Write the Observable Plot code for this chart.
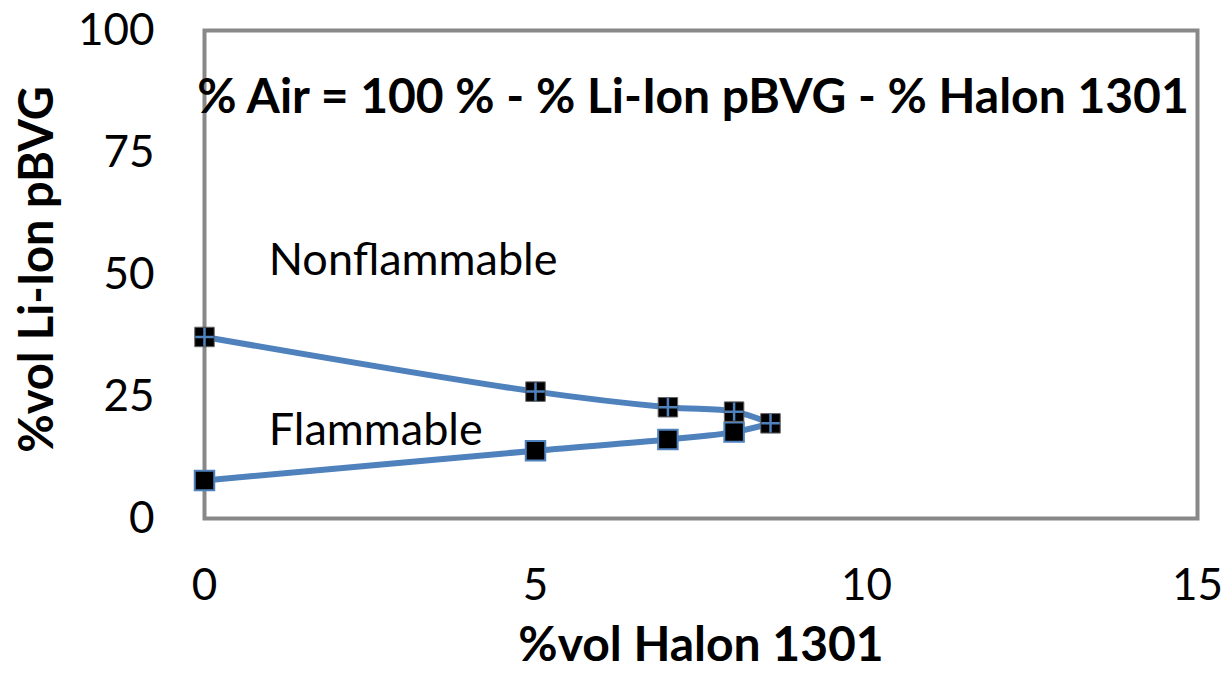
<!DOCTYPE html>
<html><head><meta charset="utf-8">
<script src="https://cdn.jsdelivr.net/npm/d3@7"></script>
<script src="https://cdn.jsdelivr.net/npm/@observablehq/plot@0.6"></script>
<style>
html,body{margin:0;padding:0;background:#fff;}
svg{font-family:Lato,"Open Sans",sans-serif;}
</style>
</head><body><div id="chart"></div>
<script>
const halonUpper = [0, 5, 7, 8, 8.55];
const pbvgUpper = [37.2, 26.0, 22.8, 21.9, 19.5];
const halonLower = [0, 5, 7, 8, 8.55];
const pbvgLower = [7.8, 13.9, 16.2, 17.7, 19.5];
const xTicks = [0, 5, 10, 15];
const yTicks = [0, 25, 50, 75, 100];
const regionLabels = ["Nonflammable", "Flammable"];
const regionX = [0.97, 0.97];
const regionY = [52.9, 18.0];
const titleText = "% Air = 100 % - % Li-Ion pBVG - % Halon 1301";
const xTitle = "%vol Halon 1301";
const yTitle = "%vol Li-Ion pBVG";

const upper = halonUpper.map((x, i) => ({x, y: pbvgUpper[i]}));
const lower = halonLower.map((x, i) => ({x, y: pbvgLower[i]}));
const labels = regionLabels.map((t, i) => ({t, x: regionX[i], y: regionY[i]}));
const blue = "#4F81BD";

const chart = Plot.plot({
  width: 1223, height: 680,
  marginLeft: 204, marginRight: 26, marginTop: 30, marginBottom: 162,
  x: {domain: [0, 15]},
  y: {domain: [0, 100]},
  marks: [
    Plot.frame({stroke: "#888", strokeWidth: 4}),
    Plot.axisX({ticks: xTicks, tickSize: 0, tickPadding: 50, fontSize: 44, label: null, fill: "#000"}),
    Plot.axisY({ticks: yTicks, tickSize: 0, tickPadding: 50, fontSize: 44, label: null, fill: "#000"}),
    Plot.line(upper, {x: "x", y: "y", stroke: blue, strokeWidth: 6, curve: "catmull-rom"}),
    Plot.line(lower, {x: "x", y: "y", stroke: blue, strokeWidth: 6, curve: "catmull-rom"}),
    Plot.dot(lower.slice(0, 4), {x: "x", y: "y", symbol: "square", r: 11, fill: "#000", stroke: blue, strokeWidth: 2}),
    Plot.dot(upper, {x: "x", y: "y", symbol: "square", r: 11, fill: "#000", stroke: "#666", strokeWidth: 1}),
    Plot.dot(upper, {x: "x", y: "y", symbol: "plus", r: 6, stroke: blue, strokeWidth: 2.5}),
    Plot.text(labels, {x: "x", y: "y", text: "t", textAnchor: "start", fontSize: 45, fill: "#000"}),
    Plot.text([titleText], {frameAnchor: "top", dy: 48, fontSize: 48, fontWeight: "bold", fill: "#000", dx: -8}),
    Plot.text([xTitle], {frameAnchor: "bottom", dy: 142, fontSize: 48, fontWeight: "bold", fill: "#000"}),
    Plot.text([yTitle], {frameAnchor: "left", textAnchor: "middle", dx: -167, dy: -5, rotate: -90, fontSize: 47, fontWeight: "bold", fill: "#000"})
  ]
});
document.getElementById("chart").appendChild(chart);
</script>
</body></html>
